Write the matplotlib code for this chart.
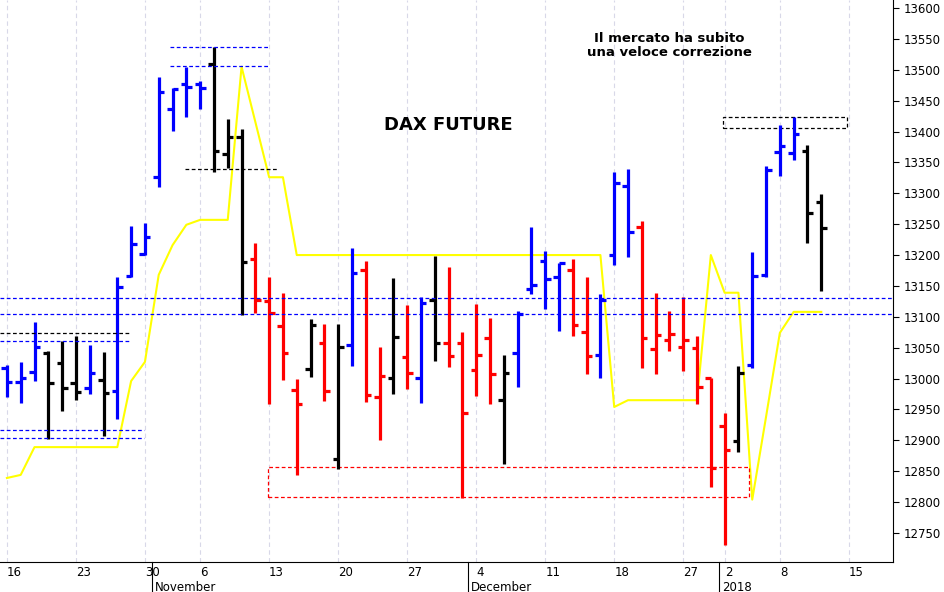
import matplotlib
matplotlib.use("Agg")
import matplotlib.pyplot as plt
from matplotlib.patches import Rectangle

opens  = [13017,12995,13011,13042,13025,12993,12985,12998,12980,13166,13202,13326,13437,13477,13477,13509,13364,13391,13194,13126,13085,12982,
          13016,13058,12870,13054,13176,12970,13001,13035,13001,13127,13058,13058,13014,13066,12965,13042,13145,13190,13165,13176,
          13075,13038,13200,13312,13245,13048,13063,13051,13050,13001,12923,12899,13022,13168,13367,13365,13368,13286]
highs  = [13022,13027,13092,13045,13061,13069,13054,13043,13165,13247,13252,13488,13471,13505,13482,13537,13420,13404,13220,13165,13139,13000,
          13097,13088,13088,13211,13190,13051,13163,13119,13132,13199,13181,13075,13121,13098,13038,13109,13245,13207,13187,13194,
          13165,13137,13335,13339,13255,13139,13109,13132,13069,13001,12944,13020,13205,13344,13411,13424,13378,13299]
lows   = [12970,12961,12996,12902,12948,12965,12975,12907,12935,13165,13200,13310,13401,13424,13437,13335,13341,13103,13106,12959,12998,12844,
          13003,12964,12854,13020,12962,12901,12975,12983,12961,13029,13019,12807,12972,12959,12862,12986,13137,13113,13077,13069,
          13008,13001,13184,13197,13017,13008,13045,13012,12959,12825,12731,12881,13017,13165,13328,13354,13220,13142]
closes = [12995,13001,13051,12993,12985,12978,13009,12977,13148,13218,13229,13464,13469,13472,13471,13368,13391,13189,13127,13106,13042,12959,
          13087,12980,13051,13171,12974,13004,13067,13009,13122,13058,13037,12944,13038,13007,13009,13105,13152,13161,13187,13087,
          13037,13127,13317,13237,13066,13071,13072,13063,12986,12855,12884,13009,13166,13338,13377,13396,13268,13244]
signal = list("bbbkkkbkbbbbbbbkkkrrrr" "krkbrrkrbkrrrrkbbbbr" "rbbbrrrrrrrkbbbbkk")

yellow_x = [0, 1, 2, 8, 9, 10, 11, 12, 13, 14, 16, 17, 19, 20, 21, 43, 44, 45, 50, 51, 52, 53, 54, 55, 56, 57, 59]
yellow_y = [12839,12844,12889,12889,12996,13027,13168,13216,13249,13257,13257,13505,13326,13326,13200,13200,12954,12965,12965,
            13200,13139,13139,12804,12938,13074,13108,13108]

week_idx = [0, 5, 10, 14, 19, 24, 29, 34, 39, 44, 49, 52, 56, 61]
week_lbl = ["16","23","30","6","13","20","27","4","11","18","27","2","8","15"]
month_idx = [10.7, 33.6, 51.8]
month_lbl = ["November", "December", "2018"]

colmap = {"b": "#0000ff", "k": "#000000", "r": "#ff0000"}

fig = plt.figure(figsize=(9.45, 5.92), dpi=100)
ax = fig.add_axes([0.0, 0.0507, 0.945, 0.9493])
ax.set_xlim(-0.5, 64.2)
ax.set_ylim(12703, 13613)

for i in range(len(opens)):
    c = colmap[signal[i]]
    ax.plot([i, i], [lows[i], highs[i]], color=c, lw=2.3, solid_capstyle="butt")
    ax.plot([i - 0.4, i], [opens[i], opens[i]], color=c, lw=2.3, solid_capstyle="butt")
    ax.plot([i, i + 0.4], [closes[i], closes[i]], color=c, lw=2.3, solid_capstyle="butt")

ax.plot(yellow_x, yellow_y, color="#ffff00", lw=1.5, zorder=1)

dash = dict(lw=0.9, ls=(0, (3, 2)))
ax.axhline(13130, color="#0000ff", **dash)
ax.axhline(13105, color="#0000ff", **dash)
ax.plot([11.8, 19], [13537, 13537], color="#0000ff", **dash)
ax.plot([11.8, 19], [13506, 13506], color="#0000ff", **dash)
ax.plot([12.9, 19.6], [13339, 13339], color="#000000", **dash)
ax.plot([-0.5, 8.9], [13074, 13074], color="#000000", **dash)
ax.plot([-0.5, 8.9], [13061, 13061], color="#0000ff", **dash)
ax.plot([-0.5, 9.9], [12917, 12917], color="#0000ff", **dash)
ax.plot([-0.5, 9.9], [12904, 12904], color="#0000ff", **dash)
ax.add_patch(Rectangle((18.9, 12808), 53.8 - 18.9, 12857 - 12808, fill=False, ec="#ff0000", **dash))
ax.add_patch(Rectangle((51.9, 13406), 60.9 - 51.9, 13424 - 13406, fill=False, ec="#000000", **dash))

for w in week_idx:
    ax.axvline(w, color="#d8d8e8", lw=0.8, ls=(0, (4, 3)), zorder=0)

ax.text(32, 13410, "DAX FUTURE", fontsize=13, fontweight="bold", ha="center", va="center")
ax.text(48, 13540, "Il mercato ha subito\nuna veloce correzione", fontsize=9.5, fontweight="bold",
        ha="center", va="center", linespacing=1.1)

ax.yaxis.tick_right()
ax.set_yticks(range(12750, 13601, 50))
ax.tick_params(axis="y", labelsize=8.5, length=4, direction="out")
ax.set_xticks(week_idx)
ax.set_xticklabels(week_lbl)
ax.tick_params(axis="x", labelsize=8.5, length=0, pad=3)
for lab in ax.get_xticklabels():
    lab.set_horizontalalignment("left")
for m, lbl in zip(month_idx, month_lbl):
    ax.text(m, -0.045, lbl, transform=ax.get_xaxis_transform(), fontsize=8.5, ha="left", va="center")
    ax.plot([m - 0.2, m - 0.2], [0, -0.06], transform=ax.get_xaxis_transform(), color="black", lw=0.8, clip_on=False)
ax.spines["top"].set_visible(False)
ax.spines["left"].set_visible(False)

fig.savefig("out.png", dpi=100)
